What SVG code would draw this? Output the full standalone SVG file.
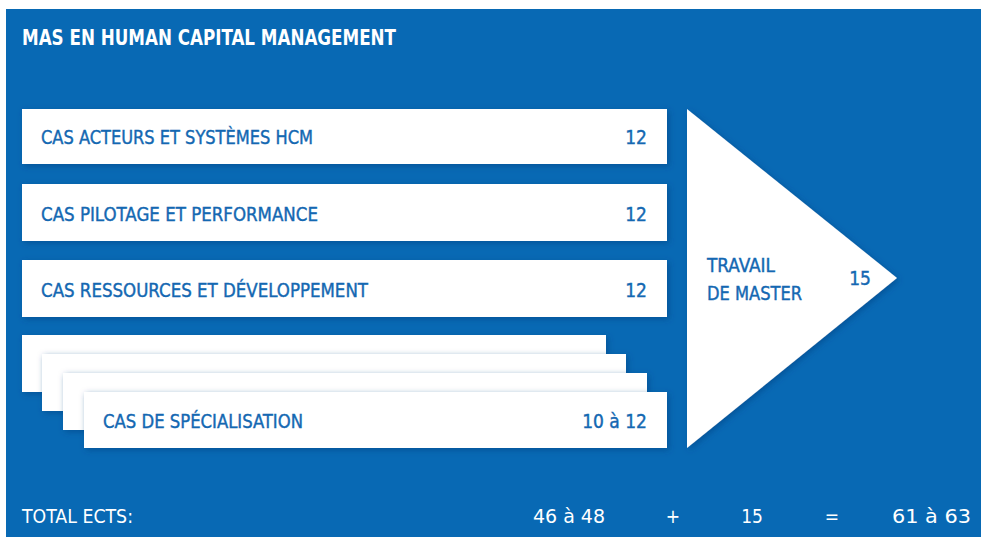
<svg xmlns="http://www.w3.org/2000/svg" width="981" height="537" viewBox="0 0 981 537">
<style>
.t{font-family:"DejaVu Sans Condensed","DejaVu Sans","Liberation Sans",sans-serif;}
.title{fill:#ffffff;font-size:21px;font-weight:bold;}
.lbl{fill:#1468b2;font-size:19px;stroke:#1468b2;stroke-width:0.4px;}
.num{fill:#1468b2;font-size:19px;stroke:#1468b2;stroke-width:0.4px;}
.tot{fill:#ffffff;font-size:19px;}
.box{fill:#ffffff;filter:url(#sh);}
</style>
<defs>
<filter id="sh" x="-10%" y="-30%" width="120%" height="160%">
<feDropShadow dx="2" dy="2" stdDeviation="3" flood-color="#003f7f" flood-opacity="0.55"/>
</filter>
</defs>
<rect x="0" y="0" width="981" height="537" fill="#ffffff"/>
<rect x="6" y="9" width="975" height="528" fill="#0869b4"/>
<text class="t title" x="22" y="45" textLength="374" lengthAdjust="spacingAndGlyphs">MAS EN HUMAN CAPITAL MANAGEMENT</text>

<g id="cas-acteurs">
<rect class="box" x="22" y="109" width="645" height="55"/>
<text class="t lbl" x="41" y="144" textLength="272" lengthAdjust="spacingAndGlyphs">CAS ACTEURS ET SYSTÈMES HCM</text>
<text class="t num" x="647" y="144" text-anchor="end">12</text>
</g>
<g id="cas-pilotage">
<rect class="box" x="22" y="184" width="645" height="57"/>
<text class="t lbl" x="41" y="221" textLength="277" lengthAdjust="spacingAndGlyphs">CAS PILOTAGE ET PERFORMANCE</text>
<text class="t num" x="647" y="221" text-anchor="end">12</text>
</g>
<g id="cas-ressources">
<rect class="box" x="22" y="260" width="645" height="57"/>
<text class="t lbl" x="41" y="297" textLength="327" lengthAdjust="spacingAndGlyphs">CAS RESSOURCES ET DÉVELOPPEMENT</text>
<text class="t num" x="647" y="297" text-anchor="end">12</text>
</g>
<g id="cas-specialisation">
<rect class="box" x="22" y="335" width="584" height="57"/>
<rect class="box" x="42" y="354" width="584" height="57"/>
<rect class="box" x="63" y="373" width="584" height="57"/>
<rect class="box" x="84" y="392" width="583" height="56"/>
<text class="t lbl" x="103" y="428" textLength="200" lengthAdjust="spacingAndGlyphs">CAS DE SPÉCIALISATION</text>
<text class="t num" x="647" y="428" text-anchor="end">10 à 12</text>
</g>
<g id="travail-master">
<polygon points="687,109 897,278 687,448" fill="#ffffff" filter="url(#sh)"/>
<text class="t lbl" x="707" y="272" textLength="68" lengthAdjust="spacingAndGlyphs">TRAVAIL</text>
<text class="t lbl" x="707" y="300" textLength="95" lengthAdjust="spacingAndGlyphs">DE MASTER</text>
<text class="t num" x="871" y="285" text-anchor="end">15</text>
</g>
<g id="connectors"/>
<g id="total">
<text class="t tot" x="22" y="523" textLength="111" lengthAdjust="spacingAndGlyphs">TOTAL ECTS:</text>
<text class="t tot" x="533" y="523" textLength="72" lengthAdjust="spacingAndGlyphs">46 à 48</text>
<text class="t tot" x="673" y="523" text-anchor="middle">+</text>
<text class="t tot" x="752" y="523" text-anchor="middle">15</text>
<text class="t tot" x="832" y="523" text-anchor="middle">=</text>
<text class="t tot" x="892" y="523" textLength="79" lengthAdjust="spacingAndGlyphs">61 à 63</text>
</g>
</svg>
